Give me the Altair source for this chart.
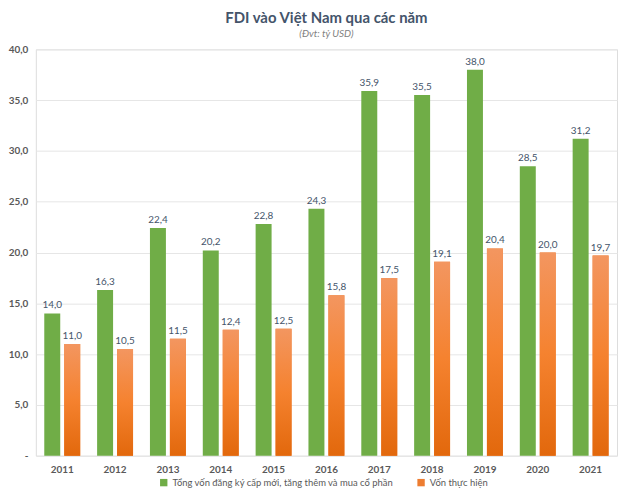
import altair as alt
import pandas as pd

years = ["2011", "2012", "2013", "2014", "2015", "2016", "2017", "2018", "2019", "2020", "2021"]
registered = [14.0, 16.3, 22.4, 20.2, 22.8, 24.3, 35.9, 35.5, 38.0, 28.5, 31.2]
disbursed = [11.0, 10.5, 11.5, 12.4, 12.5, 15.8, 17.5, 19.1, 20.4, 20.0, 19.7]
series = ["Tổng vốn đăng ký cấp mới, tăng thêm và mua cổ phần", "Vốn thực hiện"]
colors = ["#70AD47", "#ED7D31"]

rows = []
for y, a, b in zip(years, registered, disbursed):
    rows.append({"year": y, "series": series[0], "value": a})
    rows.append({"year": y, "series": series[1], "value": b})
df = pd.DataFrame(rows)

FONT = "Lato"
TXT = "#595959"

x = alt.X("year:N", sort=years, title=None,
          scale=alt.Scale(paddingInner=0.32, paddingOuter=0.16),
          axis=alt.Axis(labelAngle=0, labelFontWeight="bold", labelFontSize=10,
                        labelColor=TXT, labelFont=FONT, ticks=False, domain=False,
                        labelPadding=9))
xo = alt.XOffset("series:N", sort=series,
                 scale=alt.Scale(domain=series, paddingInner=0.2, paddingOuter=0))
y = alt.Y("value:Q", title=None,
          scale=alt.Scale(domain=[0, 40], nice=False),
          axis=alt.Axis(values=[0, 5, 10, 15, 20, 25, 30, 35, 40],
                        labelExpr="datum.value == 0 ? '-' : replace(format(datum.value, '.1f'), '.', ',')",
                        labelFontWeight="bold", labelFontSize=10, labelColor=TXT,
                        labelFont=FONT, ticks=False, domain=False, labelPadding=8,
                        gridColor="#E6E6E6", gridWidth=1))

base = alt.Chart(df).encode(x=x, xOffset=xo, y=y)

bars = base.mark_bar().encode(
    color=alt.Color("series:N", sort=series,
                    scale=alt.Scale(domain=series, range=colors),
                    legend=alt.Legend(title=None, orient="none", direction="horizontal",
                                      legendX=124, legendY=431,
                                      symbolType="square", symbolSize=55,
                                      labelFontSize=9.5, labelColor=TXT, labelFont=FONT,
                                      labelLimit=0, columnPadding=22, symbolStrokeWidth=0))
)

orange_grad = alt.Gradient(
    gradient="linear", x1=0, x2=0, y1=0, y2=1,
    stops=[alt.GradientStop(color="#F39660", offset=0),
           alt.GradientStop(color="#F5822F", offset=0.5),
           alt.GradientStop(color="#E2680C", offset=1)])

orange = base.transform_filter(alt.datum.series == series[1]).mark_bar(fill=orange_grad)

labels = base.mark_text(dy=-8, fontSize=10, color="#44546A", font=FONT).encode(
    text=alt.Text("label:N")
).transform_calculate(label="replace(format(datum.value, '.1f'), '.', ',')")

chart = alt.layer(bars, orange, labels).properties(
    width=585, height=409,
    title=alt.TitleParams("FDI vào Việt Nam qua các năm", subtitle="(Đvt: tỷ USD)",
                          fontSize=15, font=FONT, fontWeight="bold", color="#44546A",
                          subtitleFont=FONT, subtitleFontSize=10, subtitleFontStyle="italic",
                          subtitleColor="#7F7F7F", anchor="middle", offset=5,
                          subtitlePadding=3),
    padding={"left": 0, "top": 2, "right": 5, "bottom": 5}
).configure_view(stroke=None).configure(background="white")

chart.save("out.html", embed_options={"renderer": "svg", "actions": False})
